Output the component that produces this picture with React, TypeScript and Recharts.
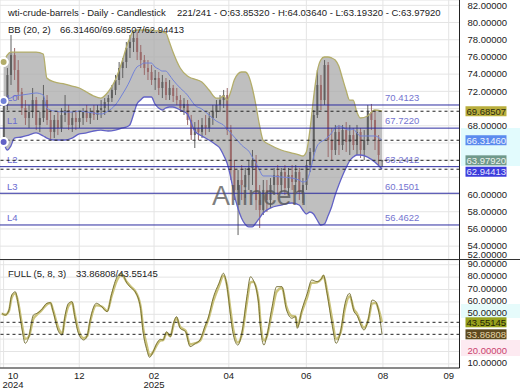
import React from 'react';
import { ComposedChart, Bar, Line, Area, XAxis, YAxis, CartesianGrid, ReferenceLine } from 'recharts';

const FONT = '"Liberation Sans", Arial, Helvetica, sans-serif';

// ---- candles (index = trading-bar position) ----
const candleIdx = [2,4,6,8,10,12,14,16,18,20,22,24,26,28,30,32,34,36,38,40,42,44,46,48,50,52,54,56,58,60,62,64,66,68,70,72,74,76,78,80,82,84,86,88,90,92,94,96,98,100,102,104,106,108,110,112,114,116,118,120,122,124,126,128,130,132,134,136,138,140,142,144,146,148,150,152,154,156,158,160,162,164,166,168,170,172,174,176,178,180,182,184,186,188,190,192,194,196,198,200,202,204,206,208,210,212];
const candleOpen = [
  66.57,70.41,73.90,76.22,74.48,71.92,70.06,68.90,69.60,70.99,
  68.09,68.90,70.99,68.67,67.27,68.67,67.74,69.25,69.83,68.09,
  68.90,68.43,68.90,69.60,68.90,69.60,69.25,69.83,70.06,70.76,
  71.22,72.16,73.32,74.71,75.41,77.04,77.74,78.20,76.57,75.64,
  74.71,74.25,73.32,73.55,72.39,73.09,71.57,72.39,71.46,70.99,
  70.06,70.53,68.67,66.92,67.74,67.27,68.09,67.74,68.90,69.60,
  70.41,70.99,71.57,67.50,62.85,60.53,61.69,61.11,62.27,63.09,
  64.02,59.36,58.20,60.53,59.36,61.11,62.27,61.11,62.62,60.76,
  62.27,61.46,62.62,60.29,61.11,63.43,64.95,69.25,72.74,70.99,
  75.06,66.34,65.18,67.27,65.76,67.50,66.11,66.92,65.76,67.27,
  65.18,66.34,69.60,68.67,66.34,63.8532];
const candleHigh = [
  71.22,74.71,78.55,77.04,75.64,72.39,70.99,70.41,72.39,71.34,
  69.60,72.74,71.57,69.83,69.25,69.60,70.06,71.57,70.41,69.60,
  69.83,69.60,70.06,70.41,70.06,70.41,70.41,70.99,71.22,71.57,
  72.74,73.90,75.41,75.88,77.74,78.55,79.13,78.90,77.39,76.22,
  75.64,75.06,74.48,74.25,73.90,73.55,73.32,72.74,72.39,71.57,
  71.22,70.99,69.25,68.43,68.67,68.90,69.25,69.60,70.41,70.99,
  71.57,72.16,72.39,68.09,64.02,62.85,63.43,63.09,64.02,65.18,
  64.60,61.11,61.69,61.69,61.92,63.09,63.43,63.09,63.43,63.09,
  63.43,63.43,63.09,61.92,64.02,65.41,69.83,74.48,73.90,75.64,
  75.41,67.74,68.09,68.09,68.09,68.43,68.09,67.74,68.09,67.74,
  67.50,70.41,70.53,69.83,66.92,64.0364];
const candleLow = [
  66.11,69.83,72.74,73.32,70.99,69.25,68.09,67.74,68.90,67.50,
  67.27,68.43,68.09,66.34,66.57,66.92,67.27,68.43,67.50,67.27,
  67.50,67.74,68.09,68.43,68.20,68.67,68.67,68.90,69.25,69.60,
  70.76,71.57,72.74,73.55,74.71,75.88,76.57,75.64,74.71,73.90,
  73.32,72.74,72.16,71.57,71.22,70.99,70.99,70.76,70.41,69.60,
  69.25,68.09,66.34,65.41,66.34,66.57,66.92,67.27,68.09,68.90,
  69.60,70.06,66.92,61.69,59.36,55.29,59.36,59.60,60.53,61.11,
  58.20,56.11,57.62,57.97,58.43,59.95,59.95,60.29,59.95,59.95,
  60.53,60.29,59.36,59.02,60.53,62.62,64.02,68.90,69.83,70.41,
  64.36,64.02,64.60,64.60,65.18,64.95,64.60,65.18,64.60,64.25,
  64.02,65.76,67.50,65.18,63.43,63.1932];
const candleClose = [
  70.41,73.90,76.22,74.48,71.92,70.06,68.90,69.60,70.99,68.09,
  68.90,70.99,68.67,67.27,68.67,67.74,69.25,69.83,68.09,68.90,
  68.43,68.90,69.60,68.90,69.60,69.25,69.83,70.06,70.76,71.22,
  72.16,73.32,74.71,75.41,77.04,77.74,78.20,76.57,75.64,74.71,
  74.25,73.32,73.55,72.39,73.09,71.57,72.39,71.46,70.99,70.06,
  70.53,68.67,66.92,67.74,67.27,68.09,67.74,68.90,69.60,70.41,
  70.99,71.57,67.50,62.85,60.53,61.69,61.11,62.27,63.09,64.02,
  59.36,58.20,60.53,59.36,61.11,62.27,61.11,62.62,60.76,62.27,
  61.46,62.62,60.29,61.11,63.43,64.95,69.25,72.74,70.99,75.06,
  66.34,65.18,67.27,65.76,67.50,66.11,66.92,65.76,67.27,65.18,
  66.34,69.60,68.67,66.34,64.60,63.9792];

// ---- Bollinger bands (20, 2) ----
const bbIdx = [2,4,6,8,12,16,20,24,26,30,36,40,44,48,52,56,60,64,68,70,72,74,76,78,80,84,86,88,90,92,94,96,100,104,106,108,112,116,120,122,124,126,128,130,132,134,136,138,140,142,144,146,150,156,162,166,168,170,172,174,176,178,180,182,184,186,188,190,192,194,196,198,200,204,208,212];
const bbUpper = [
  75.41,76.22,76.57,76.57,76.57,76.57,76.57,76.34,73.55,73.09,
  72.85,72.62,72.39,71.92,71.46,71.22,71.92,73.32,75.64,77.04,
  78.20,79.02,79.13,79.13,79.13,79.13,79.02,79.02,78.90,78.78,
  77.74,76.57,74.71,73.78,73.55,73.43,73.09,72.16,71.22,71.22,
  71.46,70.99,71.92,73.32,74.02,74.25,74.25,73.78,72.39,70.41,
  68.09,66.34,65.76,65.18,64.83,64.60,64.48,64.95,67.50,71.22,
  74.25,75.64,75.99,75.99,75.88,75.64,74.95,73.55,72.16,70.99,
  70.99,69.60,68.90,69.13,69.83,69.68507];
const bbMiddle = [
  70.88,71.11,71.22,71.46,71.57,71.69,71.81,71.57,70.06,69.71,
  69.60,69.60,69.71,69.60,69.48,69.36,69.71,70.41,71.69,72.39,
  73.20,74.13,74.83,75.06,75.29,75.29,74.83,74.60,74.36,74.36,
  73.90,73.32,72.39,71.57,70.99,70.41,69.95,69.25,68.55,68.32,
  68.09,67.62,67.16,66.69,66.23,65.76,65.41,65.06,64.36,63.67,
  62.85,62.16,62.16,62.04,61.92,61.69,61.46,61.57,62.62,64.36,
  65.64,66.11,66.34,66.69,67.16,67.74,67.97,67.85,67.62,67.50,
  67.62,67.16,66.81,66.81,66.81,66.3146];
const bbLower = [
  66.11,65.18,65.64,66.57,66.69,66.92,67.16,66.81,66.57,66.34,
  66.34,66.57,67.04,67.16,67.39,67.50,67.39,67.50,67.74,67.85,
  68.09,69.25,70.53,70.99,71.34,71.34,70.53,70.06,69.83,70.06,
  70.18,70.18,69.83,69.36,68.43,67.39,66.81,66.34,65.76,65.41,
  64.60,63.67,62.04,59.95,58.43,57.27,56.57,56.23,56.23,56.69,
  57.27,57.85,58.43,58.78,59.02,58.78,58.20,57.74,57.97,57.74,
  57.04,56.46,56.57,57.50,58.55,59.95,61.11,62.16,63.09,63.90,
  64.36,64.60,64.60,64.36,63.78,62.94413];

// ---- Stochastic FULL (5, 8, 3) ----
const stochIdx = [
  1,3,5,6.5,8.5,10,12,14,16,18.5,
  20.5,23,26,28,29.5,32.5,34.5,36,38,40,
  41.5,43.5,46.5,48.5,50,53.5,56.5,59.5,62,65,
  67.5,70.5,73,75,78,79.5,81.5,83,85,87,
  89,90.5,92.5,94.5,96.5,98,100,103,105.5,108.5,
  111,114,115.5,118.5,121.5,124,126,128,129.5,132,
  134.5,137,139,140.5,143.5,144.5,146.5,148,151,153.5,
  156.5,159,162,164,165,167.5,170.5,173,176,178.5,
  179.5,181.5,184.5,186.5,189,191.5,194,196.5,198,202,
  204.5,206.5,208.5,210,212];
const stochK = [
  50.8,49.4,53.5,65.6,68.2,58.9,40.0,26.6,31.9,49.4,
  50.8,53.5,58.9,59.4,52.1,36.0,33.3,48.1,58.9,60.2,
  48.1,34.7,29.3,33.3,45.4,58.9,56.1,52.1,66.9,80.3,
  83.1,75.0,71.0,68.2,54.8,34.7,21.2,15.3,19.8,26.6,
  29.8,29.3,36.0,31.9,44.0,48.1,38.7,36.0,23.9,26.6,
  29.3,41.4,46.8,64.2,75.0,83.1,72.3,48.1,33.3,25.2,
  37.3,64.2,80.3,77.7,58.9,40.0,25.2,31.9,56.1,72.3,
  72.3,53.5,46.8,48.1,38.7,53.5,66.9,77.7,76.3,79.0,
  81.7,66.9,40.0,26.6,36.0,58.9,66.9,52.1,49.4,37.3,
  46.8,61.5,60.2,53.5,33.86808];
const stochD = [
  50.6,49.6,52.9,63.5,66.9,60.2,43.5,30.0,32.0,46.3,
  49.6,53.2,58.0,59.1,53.1,38.5,34.5,46.1,56.7,59.4,
  49.8,37.5,30.7,32.7,43.6,57.2,56.3,52.8,65.0,77.7,
  81.8,75.8,71.8,68.7,56.6,38.5,24.7,17.0,19.6,25.2,
  28.9,29.2,35.0,32.2,42.5,46.8,39.8,36.8,25.7,26.7,
  28.7,39.8,45.4,61.2,72.8,81.1,73.2,52.3,37.5,27.2,
  35.5,59.4,75.7,76.3,61.7,44.5,28.9,31.9,52.1,68.2,
  71.2,55.9,48.6,48.3,40.3,51.9,63.9,75.3,75.7,78.8,
  81.0,69.0,44.5,30.0,35.3,55.2,64.7,53.8,50.8,39.2,
  45.9,58.6,59.2,54.4,43.55145];

// ---- ticks / levels ----
const priceTicks = [52,54,56,58,60,62,64,66,68,70,72,74,76,78,80,82];
const hiddenPriceTicks = [62,64,66,70];
const stochTicks = [10,20,30,40,50,60,70,80,90];
const hiddenStochTicks = [30,40];
const monthTickIdx = [2,44,85.5,127,170,212.5,249];
const monthLabels = ['10','12','02','04','06','08','09'];
const yearLabels = ['2024','','2025','','','',''];

const levelValues = [70.4123, 67.722, 63.2412, 60.1501, 56.4622];
const levelNames = ['L0','L1','L2','L3','L4'];
const levelTexts = ['70.4123','67.7220','63.2412','60.1501','56.4622'];

const markerValues = [69.68507, 66.3146, 63.9792, 62.94413];
const markerTexts = ['69.68507','66.31460','63.97920','62.94413'];
const markerBg = ['#b9ae3c','#5b8bee','#6f998b','#3c3cdb'];
const markerFg = ['#2a2a10','#eef3ff','#eef2ee','#e8e8ff'];
const markerShift = [0,0,0,2.5];

const stochMarkerValues = [43.55145, 33.86808];
const stochMarkerTexts = ['43.55145','33.86808'];
const stochMarkerBg = ['#97a11d','#5d4a1f'];
const stochMarkerFg = ['#1e1e05','#e2d3a6'];

const mainData = candleIdx.map((i, k) => ({ i, open: candleOpen[k], high: candleHigh[k], low: candleLow[k], close: candleClose[k] }));
const bbData = bbIdx.map((i, k) => ({ i, u: bbUpper[k], m: bbMiddle[k], lo: bbLower[k] }));
const stochData = stochIdx.map((i, k) => ({ i, k: stochK[k], d: stochD[k] }));

const Candle = (props: any) => {
  const { x, y, width, height, payload } = props;
  if (!payload || !isFinite(x) || !isFinite(y) || !isFinite(height)) return <g />;
  const top = Math.min(y, y + height);
  const h = Math.abs(height);
  const range = payload.high - payload.low;
  const k = range > 0 ? h / range : 0;
  const yO = top + (payload.high - payload.open) * k;
  const yC = top + (payload.high - payload.close) * k;
  const cx = x + width / 2;
  const up = payload.close >= payload.open;
  const col = up ? '#606060' : '#9a6a6a';
  const bTop = Math.min(yO, yC);
  const bH = Math.max(1, Math.abs(yO - yC));
  return (
    <g>
      <line x1={cx} x2={cx} y1={top} y2={top + h} stroke={col} strokeWidth={1} />
      <rect x={cx - 1} y={bTop} width={2} height={bH} fill={col} />
    </g>
  );
};

const PriceTick = (props: any) => {
  const { x, y, payload } = props;
  const v = payload.value;
  if (hiddenPriceTicks.includes(v)) return <g />;
  const yy = v === 52 ? Math.min(y, 254.5) : y;
  return <text x={x + 8} y={yy} dy="0.35em" fontSize={9.5} fontFamily={FONT} fill="#222">{v.toFixed(5)}</text>;
};

const StochTick = (props: any) => {
  const { x, y, payload } = props;
  const v = payload.value;
  if (hiddenStochTicks.includes(v)) return <g />;
  return <text x={x + 8} y={y - 1.3} dy="0.35em" fontSize={9.5} fontFamily={FONT} fill={v === 20 ? '#c9436e' : '#222'}>{v.toFixed(5)}</text>;
};

const MonthTick = (props: any) => {
  const { x, y, payload } = props;
  const k = monthTickIdx.indexOf(payload.value);
  const cx = Math.max(x, 13);
  return (
    <g>
      <text x={cx} y={y + 10.5} textAnchor="middle" fontSize={9.5} fontFamily={FONT} fill="#222">{monthLabels[k]}</text>
      {yearLabels[k] ? <text x={cx} y={y + 20} textAnchor="middle" fontSize={9.5} fontFamily={FONT} fill="#222">{yearLabels[k]}</text> : null}
    </g>
  );
};

const LevelLabel = (props: any) => {
  const { viewBox, name, text } = props;
  if (!viewBox) return <g />;
  const y = viewBox.y - 7;
  return (
    <g>
      <text x={viewBox.x + 7} y={y} dy="0.35em" fontSize={9.5} fontFamily={FONT} fill="#6a6ad0">{name}</text>
      <text x={viewBox.x + 385} y={y} dy="0.35em" fontSize={9.5} fontFamily={FONT} fill="#7474d0">{text}</text>
    </g>
  );
};

const TagLabel = (props: any) => {
  const { viewBox, text, bg, fg, shift = 0 } = props;
  if (!viewBox) return <g />;
  const x = viewBox.x + viewBox.width + 6;
  const y = viewBox.y + shift;
  return (
    <g>
      <rect x={x} y={y - 5} width={41} height={10} fill={bg} />
      <text x={x + 1} y={y} dy="0.35em" fontSize={9.5} fontFamily={FONT} fill={fg}>{text}</text>
    </g>
  );
};

export default function App() {
  return (
    <div style={{ position: 'absolute', left: 0, top: 0, width: 520, height: 390, background: '#fff', overflow: 'hidden' }}>
      <svg style={{ position: 'absolute', left: 0, top: 0 }} width={520} height={390}>
        <rect x={461} y={128} width={59} height={38} fill="#e2fbfd" />
        <rect x={461} y={304} width={59} height={14} fill="#e6fbfb" />
        <rect x={461} y={340} width={59} height={16} fill="#fdeaf1" />
      </svg>
      <div style={{ position: 'absolute', left: 0, top: 0 }}>
        <ComposedChart width={520} height={260} data={mainData} margin={{ top: 0, right: 0, bottom: 0, left: 0 }}>
          <CartesianGrid stroke="#e4e4e4" />
          <XAxis dataKey="i" type="number" domain={[0, 255]} ticks={monthTickIdx} hide allowDataOverflow />
          <YAxis orientation="right" width={60.5} domain={[52.39, 82.62]} ticks={priceTicks} tick={<PriceTick />} tickLine={false} tickSize={0} tickMargin={0} axisLine={{ stroke: '#222' }} allowDataOverflow interval={0} />
          <Area data={bbData} dataKey={(d: any) => [d.lo, d.u]} type="monotone" stroke="none" fill="#aaaaaa" fillOpacity={0.75} isAnimationActive={false} />
          <Line data={bbData} dataKey="u" type="monotone" stroke="#b3ad6a" strokeWidth={1.3} dot={false} isAnimationActive={false} />
          <Line data={bbData} dataKey="lo" type="monotone" stroke="#6262c6" strokeWidth={1.3} dot={false} isAnimationActive={false} />
          <Line data={bbData} dataKey="m" type="monotone" stroke="#7282d8" strokeWidth={1} dot={false} isAnimationActive={false} />
          <Bar dataKey={(d: any) => [d.low, d.high]} barSize={2} shape={(p: any) => <Candle {...p} />} isAnimationActive={false} />
          {levelValues.map((v, k) => (
            <ReferenceLine key={'lv' + k} y={v} stroke="#2c2ca0" strokeWidth={1} label={<LevelLabel name={levelNames[k]} text={levelTexts[k]} />} />
          ))}
          {markerValues.map((v, k) => (
            <ReferenceLine key={'mk' + k} y={v} stroke="#222" strokeDasharray="3 3" strokeWidth={1} label={<TagLabel text={markerTexts[k]} bg={markerBg[k]} fg={markerFg[k]} shift={markerShift[k]} />} />
          ))}
        </ComposedChart>
      </div>
      <div style={{ position: 'absolute', left: 0, top: 260 }}>
        <ComposedChart width={520} height={130} data={stochData} margin={{ top: 0, right: 0, bottom: 0, left: 0 }}>
          <CartesianGrid stroke="#e4e4e4" />
          <XAxis dataKey="i" type="number" domain={[0, 255]} ticks={monthTickIdx} tick={<MonthTick />} height={22} tickLine={false} tickSize={0} tickMargin={0} axisLine={{ stroke: '#222' }} interval={0} allowDataOverflow />
          <YAxis orientation="right" width={60.5} domain={[6.7, 93.8]} ticks={stochTicks} tick={<StochTick />} tickLine={false} tickSize={0} tickMargin={0} axisLine={{ stroke: '#222' }} allowDataOverflow interval={0} />
          <Line dataKey="d" type="monotone" stroke="#cbc37c" strokeWidth={2.4} dot={false} isAnimationActive={false} />
          <Line dataKey="k" type="monotone" stroke="#6f6a2c" strokeWidth={0.9} dot={false} isAnimationActive={false} />
          {stochMarkerValues.map((v, k) => (
            <ReferenceLine key={'sm' + k} y={v} stroke="#222" strokeDasharray="3 3" strokeWidth={1} label={<TagLabel text={stochMarkerTexts[k]} bg={stochMarkerBg[k]} fg={stochMarkerFg[k]} />} />
          ))}
        </ComposedChart>
      </div>
      <svg style={{ position: 'absolute', left: 0, top: 0, pointerEvents: 'none' }} width={520} height={390}>
        <line x1={0} x2={520} y1={259.5} y2={259.5} stroke="#333" strokeWidth={1} />
        <text x={8} y={16} fontSize={9.5} fontFamily={FONT} fill="#222">wti-crude-barrels - Daily - Candlestick</text>
        <text x={177} y={16} fontSize={9.5} fontFamily={FONT} fill="#222">221/241 - O:63.85320 - H:64.03640 - L:63.19320 - C:63.97920</text>
        <text x={8} y={33} fontSize={9.5} fontFamily={FONT} fill="#222">BB (20, 2)</text>
        <text x={60} y={33} fontSize={9.5} fontFamily={FONT} fill="#222">66.31460/69.68507/62.94413</text>
        <text x={8} y={277} fontSize={9.5} fontFamily={FONT} fill="#222">FULL (5, 8, 3)</text>
        <text x={76} y={277} fontSize={9.5} fontFamily={FONT} fill="#222">33.86808/43.55145</text>
        <text x={212} y={205} fontSize={27} fontFamily={FONT} fill="#555" fillOpacity={0.75}>Allinceh</text>
      </svg>
    </div>
  );
}
